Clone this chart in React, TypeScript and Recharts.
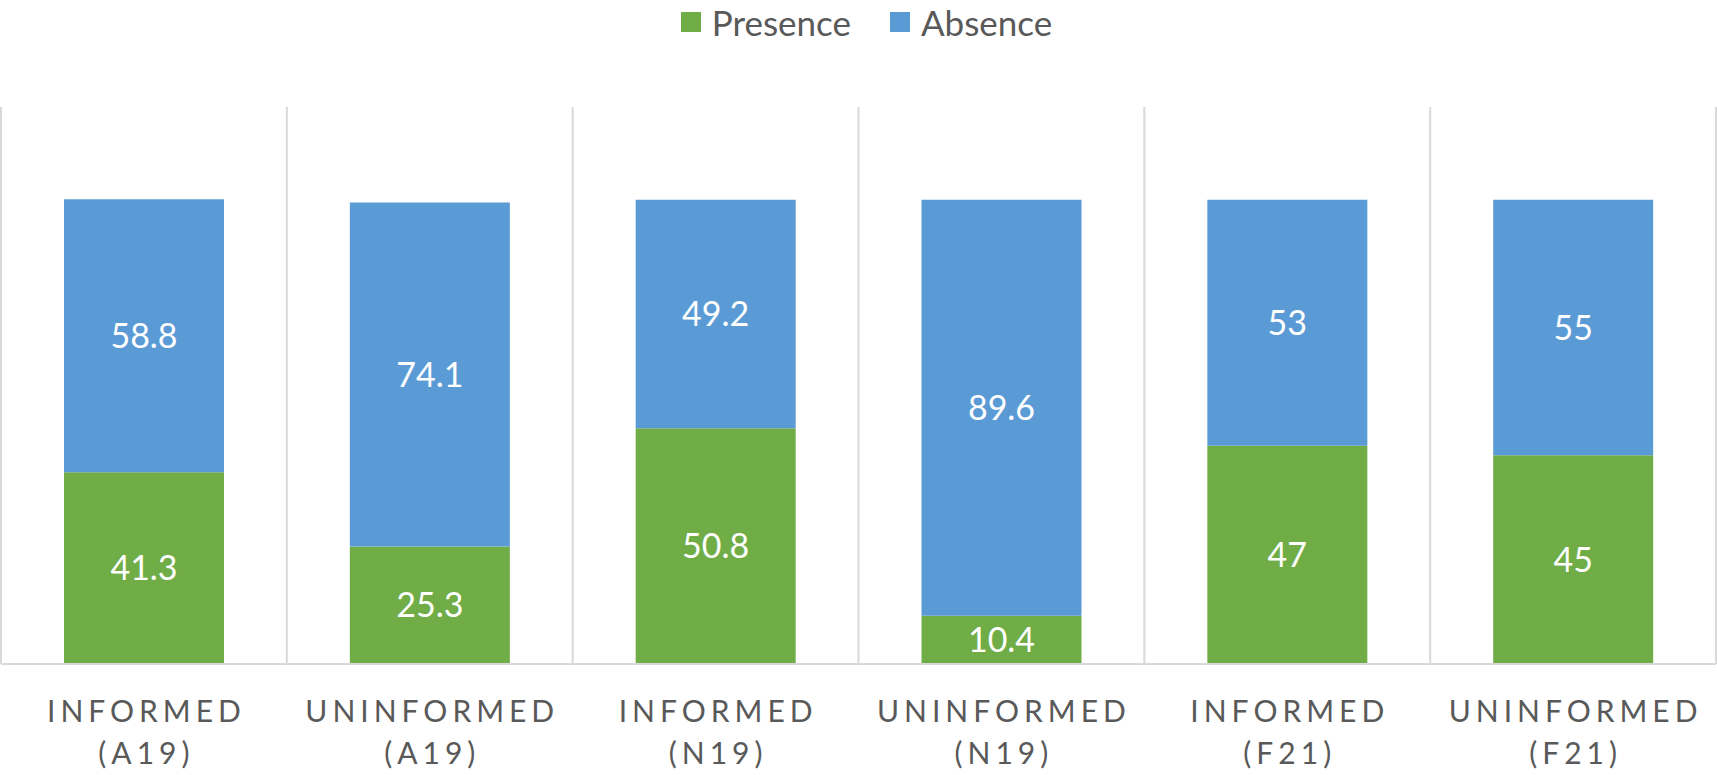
import React from 'react';
import { BarChart, Bar, XAxis, YAxis, CartesianGrid, LabelList } from 'recharts';

const categoryTop = ['INFORMED', 'UNINFORMED', 'INFORMED', 'UNINFORMED', 'INFORMED', 'UNINFORMED'];
const categoryBottom = ['(A19)', '(A19)', '(N19)', '(N19)', '(F21)', '(F21)'];
const presence = [41.3, 25.3, 50.8, 10.4, 47, 45];
const absence = [58.8, 74.1, 49.2, 89.6, 53, 55];
const seriesNames = ['Presence', 'Absence'];
const seriesColors = ['#70AD47', '#5B9BD5'];

const data = categoryTop.map((t, i) => ({
  name: `${t} ${categoryBottom[i]}`,
  presence: presence[i],
  absence: absence[i],
}));

const FONT = "Lato, 'Open Sans', sans-serif";
const TEXT = '#595959';
const GRID = '#D9D9D9';

function CategoryTick(props: any) {
  const { x, y, payload } = props;
  const i = payload?.index ?? 0;
  return (
    <g transform={`translate(${x},${y})`}>
      <text textAnchor="middle" fill={TEXT} fontSize={30} letterSpacing={5} fontFamily={FONT}>
        <tspan x={2.5} dy={58}>{categoryTop[i]}</tspan>
        <tspan x={2.5} dy={42}>{categoryBottom[i]}</tspan>
      </text>
    </g>
  );
}

export default function App() {
  return (
    <div style={{ position: 'relative', width: 1717, height: 775, background: '#fff' }}>
      <style>{`body{margin:0;}`}</style>
      <div
        style={{
          position: 'absolute',
          top: 0,
          left: 8,
          width: 1717,
          height: 44,
          display: 'flex',
          justifyContent: 'center',
          alignItems: 'center',
          fontFamily: FONT,
          fontSize: 35,
          color: TEXT,
          lineHeight: 1,
        }}
      >
        {seriesNames.map((n, i) => (
          <div key={n} style={{ display: 'flex', alignItems: 'center', marginLeft: i === 0 ? 0 : 39 }}>
            <div style={{ width: 20, height: 20, background: seriesColors[i], marginRight: 11 }} />
            <span>{n}</span>
          </div>
        ))}
      </div>
      <BarChart
        width={1717}
        height={775}
        data={data}
        margin={{ top: 107, right: 1, left: 1, bottom: 0 }}
      >
        <CartesianGrid
          horizontal={false}
          vertical
          stroke={GRID}
          strokeWidth={2}
          verticalCoordinatesGenerator={({ offset }: any) =>
            [0, 1, 2, 3, 4, 5, 6].map((k) => offset.left + (k * offset.width) / 6)
          }
        />
        <XAxis
          dataKey="name"
          height={111}
          tickLine={false}
          tickSize={0}
          tickMargin={0}
          axisLine={{ stroke: GRID, strokeWidth: 2 }}
          tick={<CategoryTick />}
          interval={0}
        />
        <YAxis hide domain={[0, 120]} />
        <Bar dataKey="presence" stackId="a" fill={seriesColors[0]} barSize={160} isAnimationActive={false}>
          <LabelList dataKey="presence" position="center" fill="#fff" fontSize={34} fontFamily={FONT} />
        </Bar>
        <Bar dataKey="absence" stackId="a" fill={seriesColors[1]} barSize={160} isAnimationActive={false}>
          <LabelList dataKey="absence" position="center" fill="#fff" fontSize={34} fontFamily={FONT} />
        </Bar>
      </BarChart>
    </div>
  );
}
